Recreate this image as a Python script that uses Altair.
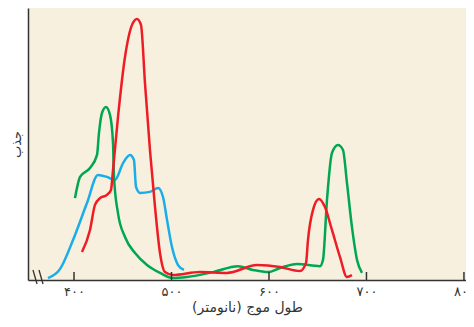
import altair as alt
import pandas as pd

# --- data (wavelength in nm, absorbance 0-100) ---
blue_nm = [373.3, 385.6, 399.0, 413.3, 424.6, 433.8, 442.0, 450.3, 457.4, 461.5, 463.6,
           467.7, 477.9, 486.2, 491.3, 495.4, 500.5, 506.7, 512.8]
blue_abs = [0.7, 4.0, 14.7, 28.3, 38.6, 37.9, 36.8, 43.0, 46.0, 44.1, 34.2,
            32.0, 32.4, 33.8, 30.5, 22.1, 12.1, 5.5, 3.7]

green_nm = [401.0, 406.2, 416.4, 423.6, 425.6, 428.7, 432.8, 436.9, 440.0, 441.0, 445.1,
            452.3, 462.6, 474.9, 488.2, 501.5, 515.9, 542.6, 568.2, 583.6, 599.0, 611.3,
            628.7, 652.3, 655.4, 659.5, 664.6, 670.8, 675.9, 680.0, 685.1, 690.3, 695.4]
green_abs = [30.1, 37.9, 41.2, 46.0, 54.0, 61.4, 63.6, 60.7, 50.4, 37.9, 24.6,
             15.8, 9.9, 5.5, 2.6, 0.7, 1.1, 2.9, 5.1, 3.7, 2.9, 4.4,
             5.9, 5.1, 7.4, 29.4, 46.7, 49.6, 47.8, 35.7, 19.5, 7.4, 2.6]

red_nm = [408.2, 416.4, 421.5, 426.7, 433.8, 437.9, 440.0, 445.1, 452.3, 459.5, 464.6,
          468.7, 472.8, 477.9, 483.1, 488.2, 493.3, 501.5, 529.2, 556.9, 587.7, 611.3,
          631.8, 638.0, 640.0, 645.1, 651.3, 657.4, 664.6, 672.8, 680.0, 685.1]
red_abs = [10.3, 18.4, 27.6, 30.1, 31.3, 33.1, 40.4, 59.9, 82.0, 93.8, 96.0,
           93.8, 72.4, 47.8, 26.8, 9.9, 2.9, 1.8, 2.9, 2.6, 5.5, 4.8,
           3.3, 6.3, 14.7, 25.7, 29.8, 26.8, 18.4, 8.5, 1.1, 1.8]

series_names = ["کاروتنوئیدها", "کلروفیل a", "کلروفیل b"]
series_colors = ["#1AADE8", "#00A651", "#EE1C25"]

tick_values = [400, 500, 600, 700, 800]
tick_labels = ["۴۰۰", "۵۰۰", "۶۰۰", "۷۰۰", "۸۰۰"]

rows = []
for name, xs, ys in zip(series_names, [blue_nm, green_nm, red_nm], [blue_abs, green_abs, red_abs]):
    for i, (a, b) in enumerate(zip(xs, ys)):
        rows.append({"series": name, "nm": a, "abs": b, "i": i})
df = pd.DataFrame(rows)
ticks_df = pd.DataFrame({"nm": tick_values})

label_expr = "''"
for v, l in reversed(list(zip(tick_values, tick_labels))):
    label_expr = f"datum.value == {v} ? '{l}' : ({label_expr})"

x_scale = alt.Scale(domain=[352.8, 802.1], nice=False, zero=False)
y_scale = alt.Scale(domain=[0, 100], nice=False, zero=True)

FONT = "DejaVu Sans"
INK = "#333333"

x_axis = alt.Axis(values=tick_values, labelExpr=label_expr, ticks=False, grid=False,
                  domainColor=INK, domainWidth=1.5, labelFont=FONT, labelFontSize=13,
                  labelColor=INK, labelPadding=5, labelFlush=False, labelOverlap=False,
                  title="طول موج (نانومتر)",
                  titleFont=FONT, titleFontSize=14, titleFontWeight="normal",
                  titleColor=INK, titlePadding=2)

lines = alt.Chart(df).mark_line(strokeWidth=2.5, interpolate="monotone").encode(
    x=alt.X("nm:Q", scale=x_scale, axis=x_axis),
    y=alt.Y("abs:Q", scale=y_scale,
            axis=alt.Axis(labels=False, ticks=False, grid=False, domainColor=INK,
                          domainWidth=1.5, title="جذب", titleFont=FONT, titleFontSize=13,
                          titleFontWeight="normal", titleColor=INK, titlePadding=5)),
    color=alt.Color("series:N", scale=alt.Scale(domain=series_names, range=series_colors), legend=None),
    order="i:Q",
)

tick_marks = alt.Chart(ticks_df).mark_rule(color=INK, strokeWidth=1.5).encode(
    x=alt.X("nm:Q", scale=x_scale, axis=x_axis),
    y=alt.value(264),
    y2=alt.value(272),
)

brk1 = alt.Chart(ticks_df.head(1)).mark_rule(color=INK, strokeWidth=1.3).encode(
    x=alt.value(5), x2=alt.value(9), y=alt.value(262), y2=alt.value(276))
brk2 = alt.Chart(ticks_df.head(1)).mark_rule(color=INK, strokeWidth=1.3).encode(
    x=alt.value(11), x2=alt.value(15), y=alt.value(262), y2=alt.value(276))

chart = alt.layer(lines, tick_marks, brk1, brk2).properties(
    width=438, height=272,
    autosize=alt.AutoSizeParams(type="none"),
    padding={"left": 20, "top": 0, "right": 0, "bottom": 39},
    background="white",
).configure_view(fill="#F8F0DE", stroke=None)

chart.save("out.html", embed_options={"renderer": "svg", "actions": False})
